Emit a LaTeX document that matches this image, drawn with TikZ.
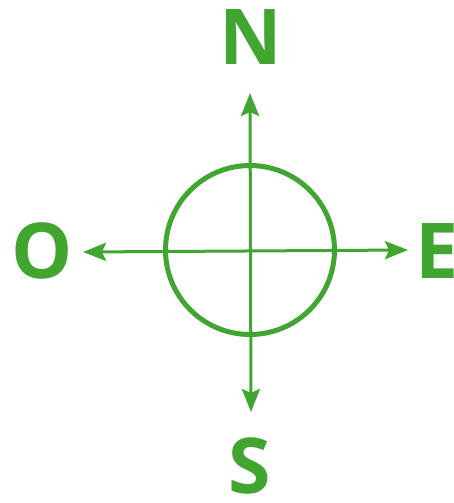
\documentclass[tikz,border=0pt]{standalone}
\usepackage{fontspec}
\setsansfont{Open Sans}
\usetikzlibrary{arrows.meta}
\definecolor{CompassGreen}{HTML}{40A630}

\begin{document}
\begin{tikzpicture}[x=1pt,y=-1pt,>={Stealth[length=23pt,width=18pt,inset=4pt]},
 ring/.style={draw=CompassGreen,line width=5pt},
 axis/.style={draw=CompassGreen,line width=3pt},
 letter/.style={text=CompassGreen,inner sep=0pt,font=\sffamily\bfseries\fontsize{77}{77}\selectfont}]
\useasboundingbox (0,0) rectangle (454,503);
% centre and ring
\coordinate (c) at (250,250);
\draw[ring] (c) circle (84.5);
% cardinal letters
\node[letter] (n) at (251,37) {N};
\node[letter] (o) at (42,251) {O};
\node[letter] (e) at (437,251) {E};
\node[letter] (s) at (250,466) {S};
% arrow tips
\coordinate (tipn) at (250,93);
\coordinate (tips) at (251,412);
\coordinate (tipo) at (83,252);
\coordinate (tipe) at (408,250);
\draw[axis,<->] (tipn)--(tips);
\draw[axis,<->] (tipo)--(tipe);
\end{tikzpicture}
\end{document}
